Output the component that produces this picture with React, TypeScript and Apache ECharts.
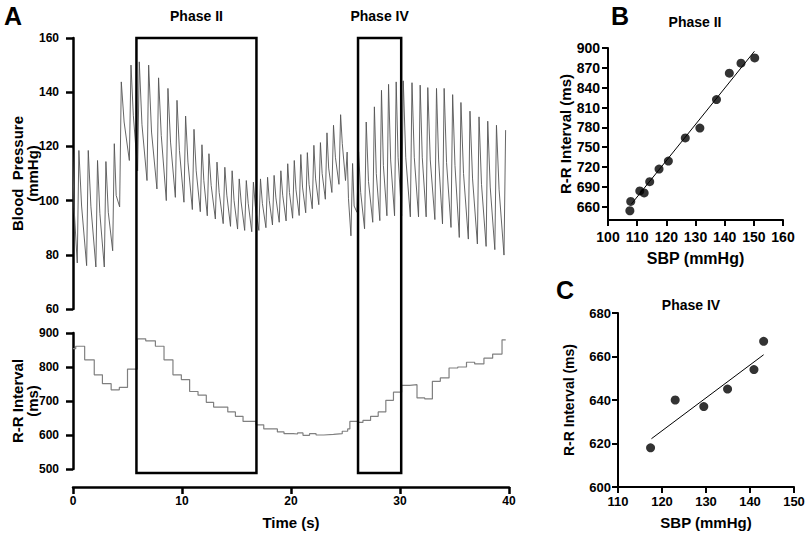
import React, { useEffect, useRef } from "react";
import * as echarts from "echarts";

// ---- Panel A: blood pressure beats (onset = diastolic trough time, s) ----
const bpBeatOnset = [-0.2, 0.39, 1.25, 2.1, 2.87, 3.64, 4.28, 5.17, 5.93, 6.79, 7.7, 8.56, 9.39, 10.18, 10.95, 11.68, 12.32, 13.06, 13.78, 14.45, 15.1, 15.75, 16.4, 17.05, 17.7, 18.3, 18.92, 19.55, 20.15, 20.75, 21.35, 21.95, 22.55, 23.15, 23.75, 24.4, 25.0, 25.5, 26.05, 26.75, 27.5, 28.15, 28.8, 29.5, 30.15, 30.95, 31.7, 32.4, 33.2, 33.9, 34.68, 35.44, 36.27, 37.1, 37.9, 38.7, 39.54];
const bpDiastolic = [80, 77, 76, 75.5, 75.5, 81.5, 97.7, 114.8, 111, 107.4, 104.3, 100, 101.2, 99.4, 96.7, 95.9, 94.4, 93.2, 91.5, 90.5, 89.5, 89, 88.5, 89, 90, 91, 92, 92.5, 93.5, 94.5, 95.5, 97, 98.5, 100.5, 103, 106, 107.4, 87, 95.7, 89.6, 92, 92.6, 94.4, 94.4, 94.4, 94, 94, 94, 93, 91.4, 90.1, 86.4, 85.8, 84, 83.1, 81.9, 79.9];
const bpSystolic = [119, 118.5, 118.5, 114.8, 114.4, 121, 143.8, 150, 151.2, 150, 145.3, 141.4, 137, 131.2, 126.3, 120.6, 117.3, 114.2, 112.3, 111, 108, 107.4, 106.8, 108, 108.6, 109.3, 111, 113.6, 114.8, 117, 117.7, 120.4, 121.4, 125, 127.8, 131.7, 117.9, 113.7, 118, 129, 134.6, 140.7, 142.9, 143.8, 144.2, 143.5, 142.6, 141.7, 141.4, 141.4, 139.1, 136.2, 133, 130.9, 129.3, 127.8, 126];
const bpNotch = [97, 98, 97.7, 95.2, 95.7, 101.9, 129, 131.5, 128, 125.3, 124, 121.6, 118.5, 114.2, 111, 107.4, 105.6, 103, 102, 100, 99.5, 99, 98, 99, 100, 101, 102, 103, 104, 105, 106, 108, 110, 112, 116, 121, 100.7, 98, 103, 107, 110, 113, 115, 116, 116, 116, 116, 115, 115, 114, 113, 110, 108, 106, 105, 104, 104];

// ---- Panel A: R-R interval steps (start time s, ms) ----
const rrTime = [0, 0.25, 1.07, 1.95, 2.7, 3.5, 4.25, 5.0, 5.9, 6.67, 7.56, 8.35, 9.17, 9.94, 10.7, 11.47, 12.23, 12.9, 14.2, 14.9, 15.6, 16.8, 17.5, 18.75, 19.36, 20.2, 20.6, 21.1, 21.7, 22.3, 23.0, 23.9, 24.7, 25.2, 25.4, 26.2, 26.6, 27.3, 28.0, 28.7, 29.4, 30.15, 30.9, 31.56, 32.27, 32.97, 33.7, 34.5, 35.3, 36.1, 36.85, 37.7, 38.5, 39.36, 39.7];
const rrValue = [854, 861, 821, 777, 751, 733, 740, 794, 883, 877, 861, 821, 777, 763, 728, 717, 696, 682, 668, 655, 640, 630, 618, 609, 604, 603, 606, 599, 604, 600, 602, 604, 611, 618, 640, 637, 643, 655, 668, 702, 726, 746, 748, 709, 706, 758, 768, 797, 800, 814, 809, 826, 838, 880, 880];

// ---- Phase windows (s) ----
const phaseNames = ["Phase II", "Phase IV"];
const phaseStart = [5.82, 26.15];
const phaseEnd = [16.83, 30.11];

// ---- Panel B: Phase II ----
const sbpB = [107.5, 107.8, 110.9, 112.4, 114.3, 117.5, 120.7, 126.5, 131.5, 137.2, 141.6, 145.6, 150.3];
const rrB = [654, 668, 684, 681, 698, 717, 729, 764, 779, 822, 862, 877, 885];
const fitB = [[108, 664], [150.2, 895]];

// ---- Panel C: Phase IV ----
const sbpC = [117.4, 123, 129.5, 134.9, 140.9, 143.1];
const rrC = [618, 640, 637, 645, 654, 667];
const fitC = [[117.6, 622.2], [143.1, 660.8]];

const ticksB = [660, 690, 720, 750, 780, 810, 840, 870, 900];

const FONT = "Liberation Sans, Arial, sans-serif";

function buildBP(): number[][] {
  const pts: number[][] = [];
  const n = bpBeatOnset.length;
  for (let i = 0; i < n; i++) {
    const t0 = bpBeatOnset[i];
    pts.push([t0, bpDiastolic[i]]);
    const tp = t0 + 0.15;
    pts.push([tp, bpSystolic[i]]);
    if (i < n - 1) {
      const tn = bpBeatOnset[i + 1];
      pts.push([tp + 0.35 * (tn - tp), bpNotch[i]]);
    }
  }
  return pts;
}

export default function App() {
  const ref = useRef<HTMLDivElement>(null);
  useEffect(() => {
    if (!ref.current) return;
    document.body.style.margin = "0";
    const chart = echarts.init(ref.current, undefined, { renderer: "svg" });
    const axisLineA = { show: true, lineStyle: { color: "#000", width: 2.5 } };
    const tickA = { show: true, length: 7, lineStyle: { color: "#000", width: 2.5 } };
    const labelA = { color: "#000", fontWeight: "bold" as const, fontSize: 12, fontFamily: FONT };
    const nameA = { color: "#000", fontWeight: "bold" as const, fontSize: 15, fontFamily: FONT };

    const axisLineB = { show: true, lineStyle: { color: "#000", width: 2 } };
    const tickB = { show: true, length: 6, lineStyle: { color: "#000", width: 2 } };
    const letter = { fontSize: 25, fontWeight: "bold", fontFamily: FONT, color: "#000" };

    chart.setOption({
      animation: false,
      backgroundColor: "#fff",
      textStyle: { fontFamily: FONT },
      title: [
        { text: "A", left: -1, top: -2, textStyle: letter },
        { text: "B", left: 606, top: -2, textStyle: letter },
        { text: "C", left: 551, top: 272, textStyle: letter },
        { text: "Phase II", left: 690, top: 10, textAlign: "center", textStyle: { fontSize: 14, fontWeight: "bold", fontFamily: FONT, color: "#000" } },
        { text: "Phase IV", left: 686, top: 293, textAlign: "center", textStyle: { fontSize: 14, fontWeight: "bold", fontFamily: FONT, color: "#000" } },
      ],
      grid: [
        { left: 73, right: 296, top: 38, height: 271, outerBoundsMode: "none" },
        { left: 73, right: 296, top: 333, height: 136, outerBoundsMode: "none" },
        { left: 608, right: 22, top: 48, height: 172, outerBoundsMode: "none" },
        { left: 618, right: 11, top: 313, height: 174, outerBoundsMode: "none" },
      ],
      xAxis: [
        { type: "value", gridIndex: 0, min: 0, max: 40, show: false },
        {
          type: "value", gridIndex: 1, min: 0, max: 40, interval: 10, offset: 18,
          axisLine: axisLineA, axisTick: tickA, axisLabel: { ...labelA, margin: 8 }, splitLine: { show: false },
          name: "Time (s)", nameLocation: "middle", nameGap: 28, nameTextStyle: nameA,
        },
        {
          type: "value", gridIndex: 2, min: 100, max: 160, interval: 10,
          axisLine: axisLineB, axisTick: tickB, splitLine: { show: false },
          axisLabel: { color: "#000", fontWeight: "bold", fontSize: 14, fontFamily: FONT, margin: 10 },
          name: "SBP (mmHg)", nameLocation: "middle", nameGap: 30,
          nameTextStyle: { color: "#000", fontWeight: "bold", fontSize: 16, fontFamily: FONT },
        },
        {
          type: "value", gridIndex: 3, min: 110, max: 150, interval: 10,
          axisLine: axisLineB, axisTick: tickB, splitLine: { show: false },
          axisLabel: { color: "#000", fontWeight: "bold", fontSize: 13, fontFamily: FONT, margin: 8 },
          name: "SBP (mmHg)", nameLocation: "middle", nameGap: 28,
          nameTextStyle: { color: "#000", fontWeight: "bold", fontSize: 15, fontFamily: FONT },
        },
      ],
      yAxis: [
        {
          type: "value", gridIndex: 0, min: 60, max: 160, interval: 20, offset: 3,
          axisLine: axisLineA, axisTick: tickA, axisLabel: { ...labelA, margin: 11 }, splitLine: { show: false },
          name: "Blood  Pressure\n(mmHg)", nameLocation: "middle", nameGap: 30, nameMoveOverlap: false,
          nameTextStyle: { ...nameA, lineHeight: 15 },
        },
        {
          type: "value", gridIndex: 1, min: 500, max: 900, interval: 100, offset: 3,
          axisLine: axisLineA, axisTick: tickA, axisLabel: { ...labelA, margin: 11 }, splitLine: { show: false },
          name: "R-R Interval\n(ms)", nameLocation: "middle", nameGap: 30, nameMoveOverlap: false,
          nameTextStyle: { ...nameA, lineHeight: 15 },
        },
        {
          type: "value", gridIndex: 2, min: 640, max: 900,
          axisLine: axisLineB,
          axisTick: { ...tickB, customValues: ticksB },
          axisLabel: { color: "#000", fontWeight: "bold", fontSize: 14, fontFamily: FONT, margin: 8, customValues: ticksB },
          splitLine: { show: false },
          name: "R-R Interval (ms)", nameLocation: "middle", nameGap: 34,
          nameTextStyle: { color: "#000", fontWeight: "bold", fontSize: 15, fontFamily: FONT },
        },
        {
          type: "value", gridIndex: 3, min: 600, max: 680, interval: 20,
          axisLine: axisLineB, axisTick: tickB, splitLine: { show: false },
          axisLabel: { color: "#000", fontWeight: "bold", fontSize: 13, fontFamily: FONT, margin: 7 },
          name: "R-R Interval (ms)", nameLocation: "middle", nameGap: 42,
          nameTextStyle: { color: "#000", fontWeight: "bold", fontSize: 14, fontFamily: FONT },
        },
      ],
      series: [
        {
          type: "line", xAxisIndex: 0, yAxisIndex: 0, data: buildBP(), showSymbol: false, clip: true,
          lineStyle: { color: "#555", width: 0.9 }, silent: true,
        },
        {
          type: "line", xAxisIndex: 1, yAxisIndex: 1, step: "end", showSymbol: false,
          data: rrTime.map((t, i) => [t, rrValue[i]]),
          lineStyle: { color: "#808080", width: 1.2 }, silent: true,
        },
        {
          type: "scatter", xAxisIndex: 2, yAxisIndex: 2, symbolSize: 9,
          data: sbpB.map((x, i) => [x, rrB[i]]), itemStyle: { color: "#000" },
        },
        {
          type: "line", xAxisIndex: 2, yAxisIndex: 2, data: fitB, showSymbol: false,
          lineStyle: { color: "#000", width: 1 },
        },
        {
          type: "scatter", xAxisIndex: 3, yAxisIndex: 3, symbolSize: 9,
          data: sbpC.map((x, i) => [x, rrC[i]]), itemStyle: { color: "#000" },
        },
        {
          type: "line", xAxisIndex: 3, yAxisIndex: 3, data: fitC, showSymbol: false,
          lineStyle: { color: "#000", width: 1 },
        },
      ],
    });

    const yTop = chart.convertToPixel({ yAxisIndex: 0 } as any, 160) as number;
    const yBot = chart.convertToPixel({ yAxisIndex: 1 } as any, 488) as number;
    const graphics: any[] = [];
    phaseNames.forEach((name, i) => {
      const x0 = chart.convertToPixel({ xAxisIndex: 0 } as any, phaseStart[i]) as number;
      const x1 = chart.convertToPixel({ xAxisIndex: 0 } as any, phaseEnd[i]) as number;
      graphics.push({
        type: "rect", shape: { x: x0, y: yTop, width: x1 - x0, height: yBot - yTop },
        style: { fill: "none", stroke: "#000", lineWidth: 2.5 }, z: 10,
      });
      graphics.push({
        type: "text", x: (x0 + x1) / 2, y: 9,
        style: { text: name, fill: "#000", font: `bold 14px ${FONT}`, textAlign: "center", textVerticalAlign: "top" },
        z: 10,
      });
    });
    chart.setOption({ graphic: graphics });

    return () => chart.dispose();
  }, []);
  return <div ref={ref} style={{ position: "absolute", left: 0, top: 0, width: 805, height: 535 }} />;
}
